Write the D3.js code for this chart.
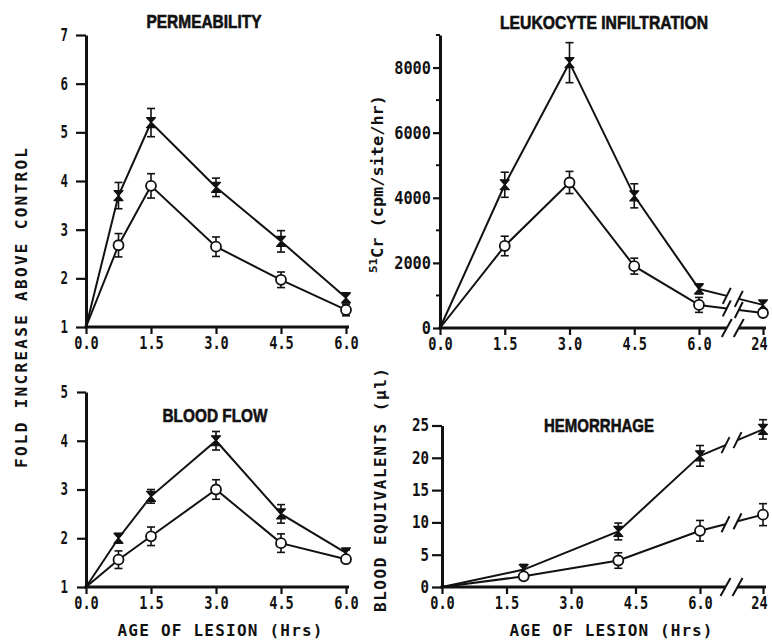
<!DOCTYPE html>
<html>
<head>
<meta charset="utf-8">
<script src="https://cdn.jsdelivr.net/npm/d3@7"></script>
<style>
  body { margin: 0; background: #fff; }
</style>
</head>
<body>
<svg id="chart" width="772" height="640"></svg>
<script>
// ---- data ----
// permeability (fold increase)
const permTimes = [0, 0.75, 1.5, 3, 4.5, 6]
const permX = [1, 3.7, 5.2, 3.87, 2.76, 1.6]
const permXErr = [0, 0.27, 0.29, 0.19, 0.22, 0.1]
const permO = [1, 2.68, 3.9, 2.65, 1.97, 1.35]
const permOErr = [0, 0.24, 0.25, 0.2, 0.16, 0.12]

// leukocyte infiltration (51Cr cpm/site/hr)
const leukTimes = [0, 1.5, 3, 4.5, 6, 24]
const leukX = [0, 4400, 8150, 4060, 1200, 710]
const leukXErr = [0, 385, 615, 370, 150, 120]
const leukO = [0, 2520, 4470, 1900, 710, 460]
const leukOErr = [0, 300, 340, 245, 230, 100]

// blood flow (fold increase)
const flowTimes = [0, 0.75, 1.5, 3, 4.5, 6]
const flowX = [1, 2.0, 2.86, 4.0, 2.5, 1.7]
const flowXErr = [0, 0.1, 0.14, 0.19, 0.19, 0.06]
const flowO = [1, 1.56, 2.04, 3.0, 1.9, 1.57]
const flowOErr = [0, 0.18, 0.19, 0.2, 0.19, 0.05]

// hemorrhage (blood equivalents, ul)
const hemTimes = [0, 1.9, 4.1, 6, 24]
const hemX = [0, 2.7, 8.6, 20.3, 24.4]
const hemXErr = [0, 0.8, 1.3, 1.6, 1.5]
const hemO = [0, 1.65, 4.1, 8.7, 11.2]
const hemOErr = [0, 0.4, 1.2, 1.6, 1.7]

// ticks
const hourTicks = [0, 1.5, 3, 4.5, 6]
const hourTicksBroken = [0, 1.5, 3, 4.5, 6, 24]
const permTicks = [1, 2, 3, 4, 5, 6, 7]
const flowTicks = [1, 2, 3, 4, 5]
const leukTicks = [0, 2000, 4000, 6000, 8000]
const leukMinor = [1000, 3000, 5000, 7000, 9000]
const hemTicks = [0, 5, 10, 15, 20, 25]

const INK = '#111'
const MONO = '"DejaVu Sans Mono", monospace'
const HEAD = '"Liberation Sans", Arial, sans-serif'

const svg = d3.select('#chart')

function squeeze(sel, perChar) {
  sel.attr('textLength', function() { return this.textContent.length * perChar })
     .attr('lengthAdjust', 'spacingAndGlyphs')
}

function hourFmt(d) { return d === 24 ? '24' : d3.format('.1f')(d) }

function drawPanel(p) {
  const g = svg.append('g')
  const x = p.x, y = p.y
  const y0 = y.range()[0]
  const x0 = x.range()[0]

  // y axis
  const ya = g.append('g')
    .attr('transform', `translate(${x0},0)`)
    .call(d3.axisLeft(y).tickValues(p.yTicks).tickSize(p.tickLen)
      .tickPadding(p.tickPad).tickSizeOuter(0).tickFormat(d3.format('d')))
  ya.select('.domain').attr('stroke', INK).attr('stroke-width', 3)
  ya.selectAll('.tick line').attr('stroke', INK).attr('stroke-width', 2.2)
  ya.selectAll('.tick text')
    .attr('font-family', MONO).attr('font-size', 17).attr('font-weight', 'bold')
    .attr('fill', INK).call(squeeze, p.yChar)

  if (p.yMinor) {
    g.append('g').selectAll('line').data(p.yMinor).join('line')
      .attr('x1', x0 - 4).attr('x2', x0)
      .attr('y1', d => y(d)).attr('y2', d => y(d))
      .attr('stroke', INK).attr('stroke-width', 2)
  }

  // x axis
  const xa = g.append('g')
    .attr('transform', `translate(0,${y0})`)
    .call(d3.axisBottom(x).tickValues(p.xTicks).tickSize(7)
      .tickSizeOuter(0).tickFormat(hourFmt))
  xa.select('.domain').remove()
  xa.selectAll('.tick line').attr('stroke', INK).attr('stroke-width', 2.2)
  xa.selectAll('.tick text')
    .attr('y', 22).attr('dy', 0)
    .attr('font-family', MONO).attr('font-size', 17).attr('font-weight', 'bold')
    .attr('fill', INK).call(squeeze, 8.2)
  // keep the last "24" inside the frame
  xa.selectAll('.tick text').filter(d => d === 24).attr('x', -4)

  const xEnd = x.range()[x.range().length - 1] + 3
  if (p.breakAt != null) {
    const bx = x(p.breakAt)
    const gap = 6
    g.append('line').attr('x1', x0 - 1.5).attr('x2', bx - gap).attr('y1', y0).attr('y2', y0)
      .attr('stroke', INK).attr('stroke-width', 3)
    g.append('line').attr('x1', bx + gap).attr('x2', xEnd).attr('y1', y0).attr('y2', y0)
      .attr('stroke', INK).attr('stroke-width', 3)
    ;[bx - gap, bx + gap].forEach(cx => {
      g.append('line').attr('x1', cx - 5).attr('y1', y0 + 9).attr('x2', cx + 5).attr('y2', y0 - 9)
        .attr('stroke', INK).attr('stroke-width', 2)
    })
  } else {
    g.append('line').attr('x1', x0 - 1.5).attr('x2', xEnd).attr('y1', y0).attr('y2', y0)
      .attr('stroke', INK).attr('stroke-width', 3)
  }

  // series
  p.series.forEach(s => {
    const pts = p.times.map((t, i) => ({ t: t, v: s.vals[i], e: s.errs[i] }))
    const main = pts.filter(d => d.t <= 6)
    g.append('path')
      .datum(main)
      .attr('d', d3.line().x(d => x(d.t)).y(d => y(d.v)))
      .attr('fill', 'none').attr('stroke', INK).attr('stroke-width', 2)

    const last = pts.filter(d => d.t > 6)
    if (last.length && p.breakAt != null) {
      const a = main[main.length - 1], b = last[0]
      const ax = x(a.t), ay = y(a.v), bx2 = x(b.t), by = y(b.v)
      const bx = x(p.breakAt)
      const gap = 6
      const yAt = px => ay + (by - ay) * (px - ax) / (bx2 - ax)
      const l1 = bx - gap, l2 = bx + gap
      g.append('line').attr('x1', ax).attr('y1', ay).attr('x2', l1).attr('y2', yAt(l1))
        .attr('stroke', INK).attr('stroke-width', 2)
      g.append('line').attr('x1', l2).attr('y1', yAt(l2)).attr('x2', bx2).attr('y2', by)
        .attr('stroke', INK).attr('stroke-width', 2)
      ;[l1, l2].forEach(cx => {
        const cy = yAt(cx)
        g.append('line').attr('x1', cx - 4).attr('y1', cy + 8).attr('x2', cx + 4).attr('y2', cy - 8)
          .attr('stroke', INK).attr('stroke-width', 2)
      })
    }

    const marked = pts.slice(1)
    // error bars
    const eb = g.append('g').attr('stroke', INK).attr('stroke-width', 1.6)
    marked.forEach(d => {
      const cx = x(d.t)
      eb.append('line').attr('x1', cx).attr('x2', cx).attr('y1', y(d.v - d.e)).attr('y2', y(d.v + d.e))
      eb.append('line').attr('x1', cx - 4).attr('x2', cx + 4).attr('y1', y(d.v - d.e)).attr('y2', y(d.v - d.e))
      eb.append('line').attr('x1', cx - 4).attr('x2', cx + 4).attr('y1', y(d.v + d.e)).attr('y2', y(d.v + d.e))
    })
    // markers
    if (s.kind === 'circle') {
      g.append('g').selectAll('circle').data(marked).join('circle')
        .attr('cx', d => x(d.t)).attr('cy', d => y(d.v)).attr('r', 5)
        .attr('fill', '#fff').attr('stroke', INK).attr('stroke-width', 1.8)
    } else {
      g.append('g').selectAll('path').data(marked).join('path')
        .attr('transform', d => `translate(${x(d.t)},${y(d.v)})`)
        .attr('d', 'M-4.5,-5L4.5,-5L-4.5,5L4.5,5Z')
        .attr('fill', INK).attr('stroke', INK).attr('stroke-width', 1.2)
        .attr('stroke-linejoin', 'round')
    }
  })

  // title
  g.append('text')
    .attr('x', p.title.cx).attr('y', p.title.y)
    .attr('text-anchor', 'middle')
    .attr('font-family', HEAD).attr('font-size', 18).attr('font-weight', 900)
    .attr('stroke', INK).attr('stroke-width', 0.6)
    .attr('fill', INK)
    .attr('textLength', p.title.w).attr('lengthAdjust', 'spacingAndGlyphs')
    .text(p.title.text)
}

drawPanel({
  x: d3.scaleLinear().domain([0, 6]).range([86, 346]),
  y: d3.scaleLinear().domain([1, 7]).range([327, 35]),
  yTicks: permTicks, tickLen: 10, tickPad: 8, yChar: 7.5,
  xTicks: hourTicks,
  times: permTimes,
  series: [
    { kind: 'x', vals: permX, errs: permXErr },
    { kind: 'circle', vals: permO, errs: permOErr }
  ],
  title: { text: 'PERMEABILITY', cx: 204, y: 28, w: 115 }
})

drawPanel({
  x: d3.scaleLinear().domain([0, 6, 24]).range([440, 699, 763]),
  y: d3.scaleLinear().domain([0, 9000]).range([328, 35]),
  yTicks: leukTicks, yMinor: leukMinor, tickLen: 7, tickPad: 2, yChar: 9.2,
  xTicks: hourTicksBroken, breakAt: 15.5,
  times: leukTimes,
  series: [
    { kind: 'x', vals: leukX, errs: leukXErr },
    { kind: 'circle', vals: leukO, errs: leukOErr }
  ],
  title: { text: 'LEUKOCYTE INFILTRATION', cx: 604, y: 29, w: 208 }
})

drawPanel({
  x: d3.scaleLinear().domain([0, 6]).range([86, 346]),
  y: d3.scaleLinear().domain([1, 5]).range([587, 392]),
  yTicks: flowTicks, tickLen: 9, tickPad: 9, yChar: 7.5,
  xTicks: hourTicks,
  times: flowTimes,
  series: [
    { kind: 'x', vals: flowX, errs: flowXErr },
    { kind: 'circle', vals: flowO, errs: flowOErr }
  ],
  title: { text: 'BLOOD FLOW', cx: 215, y: 422, w: 105 }
})

drawPanel({
  x: d3.scaleLinear().domain([0, 6, 24]).range([442, 700, 763]),
  y: d3.scaleLinear().domain([0, 25]).range([587, 425.5]),
  yTicks: hemTicks, tickLen: 10, tickPad: 3, yChar: 8.5,
  xTicks: hourTicksBroken, breakAt: 15,
  times: hemTimes,
  series: [
    { kind: 'x', vals: hemX, errs: hemXErr },
    { kind: 'circle', vals: hemO, errs: hemOErr }
  ],
  title: { text: 'HEMORRHAGE', cx: 599, y: 432, w: 110 }
})

// axis labels
function axisLabel(txt, tx, ty, rot, len) {
  return svg.append('text')
    .attr('transform', `translate(${tx},${ty}) rotate(${rot})`)
    .attr('text-anchor', 'middle')
    .attr('font-family', MONO).attr('font-size', 16).attr('font-weight', 'bold')
    .attr('fill', INK)
    .attr('textLength', len).attr('lengthAdjust', 'spacing')
    .text(txt)
}
axisLabel('FOLD INCREASE ABOVE CONTROL', 27, 308, -90, 320)
axisLabel('BLOOD EQUIVALENTS (\u00b5l)', 386, 490, -90, 244)
axisLabel('AGE OF LESION (Hrs)', 220, 636, 0, 205)
axisLabel('AGE OF LESION (Hrs)', 611, 636, 0, 203)

const cr = svg.append('text')
  .attr('transform', 'translate(383,184) rotate(-90)')
  .attr('text-anchor', 'middle')
  .attr('font-family', MONO).attr('font-size', 15).attr('font-weight', 'bold')
  .attr('fill', INK)
  .attr('textLength', 178).attr('lengthAdjust', 'spacingAndGlyphs')
cr.append('tspan').attr('font-size', 11).attr('dy', -6).text('51')
cr.append('tspan').attr('dy', 6).text('Cr (cpm/site/hr)')
</script>
</body>
</html>
